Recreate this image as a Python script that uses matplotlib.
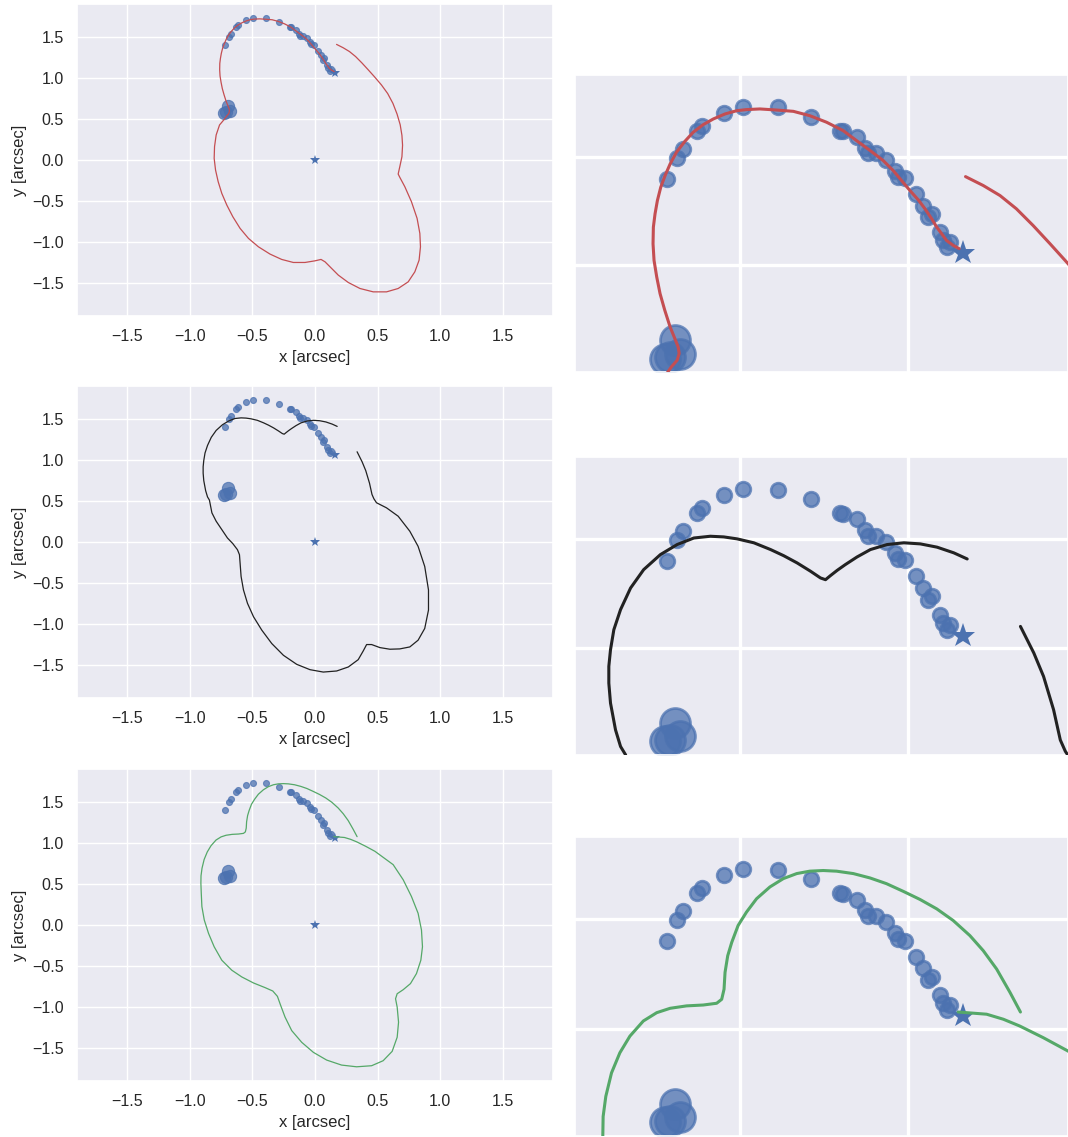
import numpy as np
import matplotlib
matplotlib.use('Agg')
import matplotlib.pyplot as plt
import seaborn as sns

sns.set_theme(style='darkgrid')
plt.rcParams['font.family'] = 'sans-serif'
plt.rcParams['font.sans-serif'] = ['Liberation Sans', 'DejaVu Sans']

# lensed arc images [arcsec]
arc_x = [-0.720, -0.690, -0.671, -0.629, -0.616, -0.549, -0.492, -0.389, -0.290,
         -0.203, -0.193, -0.151, -0.128, -0.118, -0.096, -0.064, -0.039, -0.029,
         -0.009, 0.024, 0.044, 0.071, 0.061, 0.096, 0.105, 0.125, 0.116]
arc_y = [1.398, 1.494, 1.535, 1.619, 1.642, 1.700, 1.729, 1.726, 1.683,
         1.619, 1.616, 1.589, 1.540, 1.515, 1.515, 1.485, 1.436, 1.408,
         1.402, 1.329, 1.275, 1.237, 1.222, 1.153, 1.115, 1.107, 1.084]

# counter images
cimg_x = [-0.725, -0.710, -0.681, -0.696]
cimg_y = [0.572, 0.579, 0.595, 0.656]

# lens centre and source
lens_x, lens_y = [0.0], [0.0]
src_x, src_y = [0.163], [1.057]

# critical curves of the three models
red_x = [0.153, 0.135, 0.115, 0.101, 0.086, 0.071, 0.051, 0.031, 0.006, -0.019,
         -0.044, -0.074, -0.113, -0.153, -0.193, -0.243, -0.293, -0.342, -0.392, -0.442,
         -0.482, -0.511, -0.546, -0.581, -0.611, -0.641, -0.666, -0.691, -0.710, -0.725,
         -0.738, -0.748, -0.755, -0.760, -0.761, -0.758, -0.750, -0.740, -0.726, -0.710,
         -0.696, -0.686, -0.683, -0.689, -0.706, -0.720, -0.762, -0.789, -0.802, -0.805,
         -0.794, -0.773, -0.744, -0.704, -0.656, -0.598, -0.531, -0.452, -0.359, -0.266,
         -0.173, -0.080, 0.000, 0.048, 0.080, 0.120, 0.186, 0.266, 0.359, 0.465,
         0.571, 0.664, 0.744, 0.797, 0.831, 0.842, 0.837, 0.815, 0.770, 0.717,
         0.677, 0.664, 0.677, 0.694, 0.699, 0.694, 0.680, 0.655, 0.622, 0.580,
         0.530, 0.474, 0.424, 0.374, 0.324, 0.275, 0.225, 0.172]
red_y = [1.077, 1.092, 1.115, 1.145, 1.176, 1.214, 1.260, 1.301, 1.344, 1.390,
         1.436, 1.482, 1.528, 1.573, 1.619, 1.658, 1.688, 1.708, 1.714, 1.719,
         1.716, 1.711, 1.696, 1.673, 1.647, 1.612, 1.570, 1.520, 1.466, 1.413,
         1.359, 1.298, 1.237, 1.176, 1.099, 1.023, 0.947, 0.870, 0.794, 0.717,
         0.664, 0.625, 0.595, 0.564, 0.534, 0.503, 0.427, 0.305, 0.163, 0.020,
         -0.122, -0.264, -0.407, -0.549, -0.691, -0.833, -0.955, -1.057, -1.146, -1.211,
         -1.248, -1.248, -1.228, -1.211, -1.240, -1.301, -1.402, -1.492, -1.565, -1.606,
         -1.606, -1.565, -1.484, -1.362, -1.220, -1.057, -0.894, -0.711, -0.508, -0.325,
         -0.211, -0.171, -0.081, 0.040, 0.180, 0.300, 0.430, 0.560, 0.690, 0.810,
         0.915, 1.015, 1.100, 1.183, 1.260, 1.321, 1.367, 1.408]

black_x = [0.177, 0.137, 0.087, 0.037, -0.012, -0.062, -0.112, -0.152, -0.187, -0.211,
           -0.231, -0.246, -0.261, -0.291, -0.331, -0.371, -0.410, -0.460, -0.510, -0.550,
           -0.590, -0.639, -0.689, -0.739, -0.789, -0.828, -0.858, -0.878, -0.888, -0.893,
           -0.893, -0.888, -0.873, -0.858, -0.843, -0.823, -0.789, -0.744, -0.699, -0.656,
           -0.619, -0.603, -0.598, -0.590, -0.571, -0.539, -0.491, -0.425, -0.345, -0.252,
           -0.146, -0.040, 0.066, 0.173, 0.266, 0.345, 0.385, 0.412, 0.452, 0.518,
           0.598, 0.677, 0.757, 0.823, 0.876, 0.906, 0.906, 0.876, 0.823, 0.757,
           0.664, 0.571, 0.491, 0.470, 0.455, 0.435, 0.405, 0.376, 0.336]
black_y = [1.408, 1.436, 1.462, 1.477, 1.482, 1.474, 1.451, 1.417, 1.382, 1.356,
           1.332, 1.313, 1.321, 1.352, 1.390, 1.423, 1.451, 1.482, 1.500, 1.509,
           1.512, 1.504, 1.474, 1.428, 1.359, 1.275, 1.176, 1.084, 0.992, 0.916,
           0.839, 0.748, 0.625, 0.549, 0.511, 0.355, 0.253, 0.151, 0.049, -0.020,
           -0.094, -0.155, -0.257, -0.420, -0.584, -0.747, -0.910, -1.073, -1.237, -1.380,
           -1.490, -1.555, -1.584, -1.571, -1.522, -1.433, -1.327, -1.249, -1.249, -1.286,
           -1.306, -1.302, -1.278, -1.196, -1.053, -0.829, -0.584, -0.298, -0.053, 0.131,
           0.314, 0.416, 0.478, 0.527, 0.579, 0.717, 0.870, 0.977, 1.099]

green_x = [0.336, 0.305, 0.265, 0.225, 0.185, 0.135, 0.086, 0.036, -0.014, -0.064,
           -0.113, -0.163, -0.213, -0.253, -0.293, -0.332, -0.372, -0.412, -0.452, -0.482,
           -0.507, -0.526, -0.538, -0.546, -0.549, -0.556, -0.571, -0.611, -0.661, -0.710,
           -0.750, -0.790, -0.830, -0.860, -0.885, -0.902, -0.910, -0.911, -0.908, -0.903,
           -0.884, -0.850, -0.805, -0.744, -0.664, -0.584, -0.491, -0.398, -0.337, -0.300,
           -0.274, -0.239, -0.186, -0.106, -0.013, 0.093, 0.212, 0.332, 0.452, 0.544,
           0.616, 0.656, 0.667, 0.656, 0.643, 0.656, 0.704, 0.762, 0.810, 0.845,
           0.858, 0.850, 0.823, 0.770, 0.704, 0.624, 0.479, 0.404, 0.334, 0.285,
           0.235, 0.150]
green_y = [1.076, 1.165, 1.272, 1.356, 1.425, 1.494, 1.547, 1.590, 1.627, 1.662,
           1.688, 1.708, 1.719, 1.722, 1.719, 1.708, 1.685, 1.647, 1.593, 1.532,
           1.471, 1.394, 1.333, 1.257, 1.180, 1.134, 1.116, 1.108, 1.104, 1.093,
           1.073, 1.035, 0.966, 0.890, 0.798, 0.691, 0.599, 0.508, 0.388, 0.224,
           0.061, -0.102, -0.265, -0.429, -0.551, -0.633, -0.706, -0.763, -0.804, -0.869,
           -0.980, -1.122, -1.286, -1.429, -1.551, -1.645, -1.706, -1.727, -1.714, -1.653,
           -1.539, -1.367, -1.184, -1.000, -0.898, -0.837, -0.788, -0.714, -0.592, -0.429,
           -0.265, -0.061, 0.143, 0.347, 0.551, 0.735, 0.897, 0.959, 1.012, 1.043,
           1.066, 1.076]

BLUE = '#4c72b0'
W, H = 1068, 1137


def px_axes(fig, left, top, right, bottom):
    return fig.add_axes([left / W, 1 - bottom / H, (right - left) / W, (bottom - top) / H])


def draw(ax, cx, cy, color, zoom=False):
    k = 2.45 if zoom else 1.0
    ax.plot(cx, cy, color=color, lw=2.2 if zoom else 0.9, zorder=4)
    ax.scatter(arc_x, arc_y, s=(4.3 * k) ** 2, color=BLUE, alpha=0.75,
               edgecolor=BLUE, linewidth=0.8 * k, zorder=2)
    ax.scatter(cimg_x, cimg_y, s=(8.8 * k) ** 2, color=BLUE, alpha=0.75,
               edgecolor=BLUE, linewidth=0.8 * k, zorder=2)
    ax.plot(lens_x, lens_y, '*', color=BLUE, ms=7.5 * k, mew=0, zorder=3)
    ax.plot(src_x, src_y, '*', color=BLUE, ms=7.5 * k, mew=0, zorder=3)


fig = plt.figure(figsize=(W / 100, H / 100), dpi=100)
curves = [(red_x, red_y, '#c44e52'), (black_x, black_y, '#222222'), (green_x, green_y, '#55a868')]
left_rows = [(4, 316), (386, 698), (769, 1081)]
right_rows = [(75, 372), (457, 755), (837, 1136)]
ticks = np.arange(-1.5, 1.6, 0.5)

for (cx, cy, color), (t, b), (rt, rb) in zip(curves, left_rows, right_rows):
    ax = px_axes(fig, 77, t, 553, b)
    draw(ax, cx, cy, color)
    ax.set_xlim(-1.9, 1.9)
    ax.set_ylim(-1.9, 1.9)
    ax.set_xticks(ticks)
    ax.set_yticks(ticks)
    ax.tick_params(labelsize=11.5)
    ax.set_xlabel('x [arcsec]', fontsize=12)
    ax.set_ylabel('y [arcsec]', fontsize=12)

    axz = px_axes(fig, 575, rt, 1068, rb)
    draw(axz, cx, cy, color, zoom=True)
    axz.set_xlim(-0.994, 0.478)
    axz.set_ylim(0.51, 1.875)
    axz.set_xticks([-0.5, 0.0])
    axz.set_yticks([1.0, 1.5])
    axz.set_xticklabels([])
    axz.set_yticklabels([])
    axz.tick_params(length=0)
    axz.grid(lw=2.4)

fig.savefig('out.png', dpi=100)
